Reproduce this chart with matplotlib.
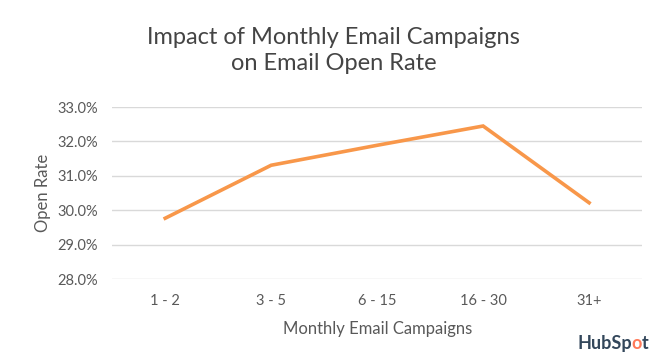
import matplotlib.pyplot as plt
from matplotlib.ticker import FuncFormatter

campaigns = ["1 - 2", "3 - 5", "6 - 15", "16 - 30", "31+"]
open_rate = [29.77, 31.31, 31.89, 32.45, 30.22]
y_ticks = [28.0, 29.0, 30.0, 31.0, 32.0, 33.0]

plt.rcParams['font.family'] = ['Lato', 'DejaVu Sans']

fig = plt.figure(figsize=(6.64, 3.63), dpi=100)
ax = fig.add_axes([0.169, 0.231, 0.798, 0.474])

x = range(len(campaigns))
ax.plot(x, open_rate, color="#F8974A", linewidth=2.6, solid_joinstyle="miter")

ax.set_xlim(-0.5, len(campaigns) - 0.5)
ax.set_ylim(28.0, 33.0)
ax.set_yticks(y_ticks)
ax.yaxis.set_major_formatter(FuncFormatter(lambda v, p: f"{v:.1f}%"))
ax.set_xticks(list(x))
ax.set_xticklabels(campaigns)

ax.grid(axis="y", color="#D9D9D9", linewidth=1)
ax.set_axisbelow(True)
for s in ax.spines.values():
    s.set_visible(False)
ax.tick_params(length=0, labelsize=10.5, colors="#595959", pad=10)
ax.tick_params(axis="x", pad=11)

ax.set_ylabel("Open Rate", fontsize=12, color="#595959", labelpad=5)
ax.set_xlabel("Monthly Email Campaigns", fontsize=12, color="#595959", labelpad=9)

fig.text(0.502, 0.86, "Impact of Monthly Email Campaigns\non Email Open Rate",
         ha="center", va="center", fontsize=17, color="#444444", linespacing=1.3)

# logo
t1 = fig.text(0.869, 0.03, "HubSp", ha="left", va="bottom", fontsize=13, color="#33475B", weight="bold")
a = fig.add_artist(plt.Annotation("o", xy=(1, 0), xycoords=t1, va="bottom",
                                  fontsize=13, color="#FF7A59", weight="bold"))
fig.add_artist(plt.Annotation("t", xy=(1, 0), xycoords=a, va="bottom",
                              fontsize=13, color="#33475B", weight="bold"))

plt.savefig("out.png", dpi=100)
